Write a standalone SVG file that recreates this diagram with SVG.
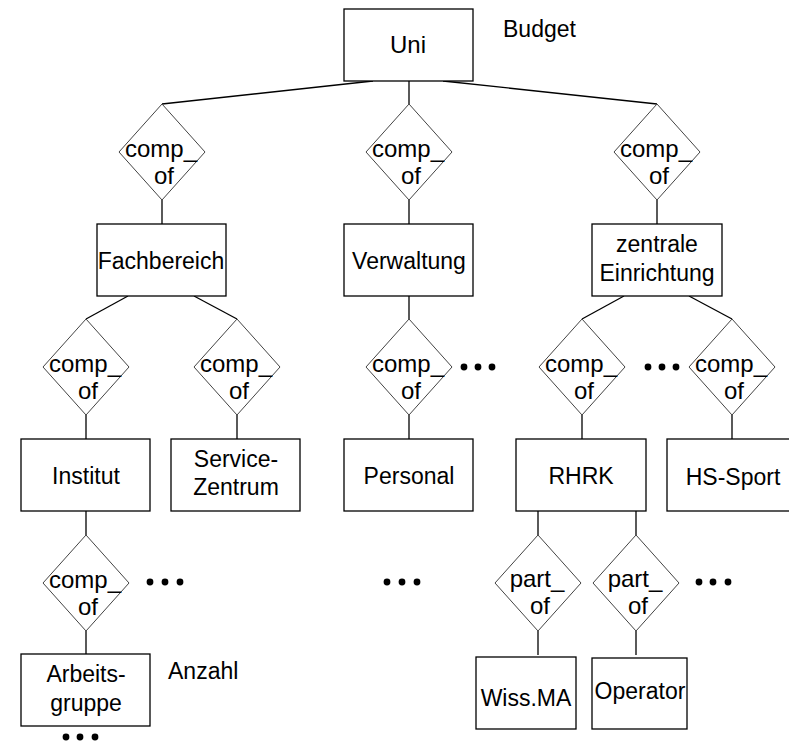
<svg xmlns="http://www.w3.org/2000/svg" width="789" height="741" viewBox="0 0 789 741">
<style>
.box{fill:#fff;stroke:#000;stroke-width:1.3}
.dia{fill:#fff;stroke:#444;stroke-width:1}
.ln{stroke:#000;stroke-width:1.3;fill:none}
text{font-family:"Liberation Sans",Arial,sans-serif;font-size:23px;fill:#000}
.c{text-anchor:middle}
.d text{font-size:24px}
.dot{fill:#000}
</style>
<defs>
<path id="dm" d="M0,-48 L43,0 L0,48 L-43,0 Z"/>
</defs>
<rect width="789" height="741" fill="#fff"/>
<g id="connectors">
<line class="ln" x1="373" y1="81" x2="162" y2="104"/>
<line class="ln" x1="409" y1="81" x2="409" y2="104"/>
<line class="ln" x1="443" y1="81" x2="657" y2="104"/>
<line class="ln" x1="162" y1="200" x2="162" y2="224"/>
<line class="ln" x1="409" y1="200" x2="409" y2="224"/>
<line class="ln" x1="657" y1="200" x2="657" y2="224"/>
<line class="ln" x1="128" y1="296" x2="86" y2="319"/>
<line class="ln" x1="194" y1="296" x2="237" y2="319"/>
<line class="ln" x1="409" y1="296" x2="409" y2="319"/>
<line class="ln" x1="624" y1="296" x2="582" y2="319"/>
<line class="ln" x1="689" y1="296" x2="732" y2="319"/>
<line class="ln" x1="86" y1="415" x2="86" y2="439"/>
<line class="ln" x1="237" y1="415" x2="237" y2="439"/>
<line class="ln" x1="409" y1="415" x2="409" y2="439"/>
<line class="ln" x1="582" y1="415" x2="582" y2="439"/>
<line class="ln" x1="732" y1="415" x2="732" y2="439"/>
<line class="ln" x1="86" y1="511" x2="86" y2="535"/>
<line class="ln" x1="86" y1="631" x2="86" y2="654"/>
<line class="ln" x1="538" y1="511" x2="538" y2="535"/>
<line class="ln" x1="636" y1="511" x2="636" y2="535"/>
<line class="ln" x1="538" y1="631" x2="538" y2="655"/>
<line class="ln" x1="636" y1="631" x2="636" y2="655"/>
</g>
<g id="n-uni"><rect class="box" x="344" y="9" width="129" height="72"/><text class="c" x="408" y="53" style="font-size:24px">Uni</text></g>
<g id="n-budget"><text x="503" y="37">Budget</text></g>
<g id="n-fach"><rect class="box" x="97" y="224" width="129" height="72"/><text class="c" x="161" y="269">Fachbereich</text></g>
<g id="n-verw"><rect class="box" x="344" y="224" width="129" height="72"/><text class="c" x="409" y="269">Verwaltung</text></g>
<g id="n-zent"><rect class="box" x="592" y="224" width="130" height="72"/><text class="c" x="657" y="252">zentrale</text><text class="c" x="657" y="281">Einrichtung</text></g>
<g id="n-inst"><rect class="box" x="21" y="439" width="129" height="72"/><text class="c" x="86" y="484">Institut</text></g>
<g id="n-serv"><rect class="box" x="171" y="439" width="129" height="72"/><text class="c" x="236" y="467">Service-</text><text class="c" x="236" y="495">Zentrum</text></g>
<g id="n-pers"><rect class="box" x="344" y="439" width="129" height="72"/><text class="c" x="409" y="484">Personal</text></g>
<g id="n-rhrk"><rect class="box" x="516" y="439" width="130" height="72"/><text class="c" x="581" y="484">RHRK</text></g>
<g id="n-hss"><rect class="box" x="667" y="439" width="132" height="72"/><text class="c" x="733" y="485">HS-Sport</text></g>
<g id="n-ag"><rect class="box" x="21" y="654" width="129" height="72"/><text class="c" x="86" y="682">Arbeits-</text><text class="c" x="86" y="711">gruppe</text></g>
<g id="n-anzahl"><text x="168" y="679">Anzahl</text></g>
<g id="n-wiss"><rect class="box" x="476" y="657" width="100" height="72"/><text class="c" x="526" y="706">Wiss.MA</text></g>
<g id="n-oper"><rect class="box" x="592" y="658" width="95" height="71"/><text class="c" x="640" y="699">Operator</text></g>
<g id="d1" class="d"><use href="#dm" class="dia" x="162" y="152"/><text class="c" x="161" y="157">comp_</text><text class="c" x="164" y="184">of</text></g>
<g id="d2" class="d"><use href="#dm" class="dia" x="409" y="152"/><text class="c" x="408" y="157">comp_</text><text class="c" x="411" y="184">of</text></g>
<g id="d3" class="d"><use href="#dm" class="dia" x="657" y="152"/><text class="c" x="656" y="157">comp_</text><text class="c" x="659" y="184">of</text></g>
<g id="d4" class="d"><use href="#dm" class="dia" x="86" y="367"/><text class="c" x="85" y="372">comp_</text><text class="c" x="88" y="399">of</text></g>
<g id="d5" class="d"><use href="#dm" class="dia" x="237" y="367"/><text class="c" x="236" y="372">comp_</text><text class="c" x="239" y="399">of</text></g>
<g id="d6" class="d"><use href="#dm" class="dia" x="409" y="367"/><text class="c" x="408" y="372">comp_</text><text class="c" x="411" y="399">of</text></g>
<g id="d7" class="d"><use href="#dm" class="dia" x="582" y="367"/><text class="c" x="581" y="372">comp_</text><text class="c" x="584" y="399">of</text></g>
<g id="d8" class="d"><use href="#dm" class="dia" x="732" y="367"/><text class="c" x="731" y="372">comp_</text><text class="c" x="734" y="399">of</text></g>
<g id="d9" class="d"><use href="#dm" class="dia" x="86" y="583"/><text class="c" x="85" y="588">comp_</text><text class="c" x="88" y="615">of</text></g>
<g id="d10" class="d"><use href="#dm" class="dia" x="538" y="583"/><text class="c" x="537" y="587">part_</text><text class="c" x="540" y="614">of</text></g>
<g id="d11" class="d"><use href="#dm" class="dia" x="636" y="583"/><text class="c" x="635" y="587">part_</text><text class="c" x="638" y="614">of</text></g>
<g id="dots">
<circle class="dot" cx="464" cy="367" r="3.4"/><circle class="dot" cx="478" cy="367" r="3.4"/><circle class="dot" cx="492" cy="367" r="3.4"/>
<circle class="dot" cx="648" cy="367" r="3.4"/><circle class="dot" cx="662" cy="367" r="3.4"/><circle class="dot" cx="676" cy="367" r="3.4"/>
<circle class="dot" cx="150" cy="582" r="3.4"/><circle class="dot" cx="165" cy="582" r="3.4"/><circle class="dot" cx="180" cy="582" r="3.4"/>
<circle class="dot" cx="387" cy="582" r="3.4"/><circle class="dot" cx="402" cy="582" r="3.4"/><circle class="dot" cx="417" cy="582" r="3.4"/>
<circle class="dot" cx="699" cy="582" r="3.4"/><circle class="dot" cx="713" cy="582" r="3.4"/><circle class="dot" cx="728" cy="582" r="3.4"/>
<circle class="dot" cx="66" cy="737" r="3.4"/><circle class="dot" cx="80" cy="737" r="3.4"/><circle class="dot" cx="95" cy="737" r="3.4"/>
</g>
</svg>
